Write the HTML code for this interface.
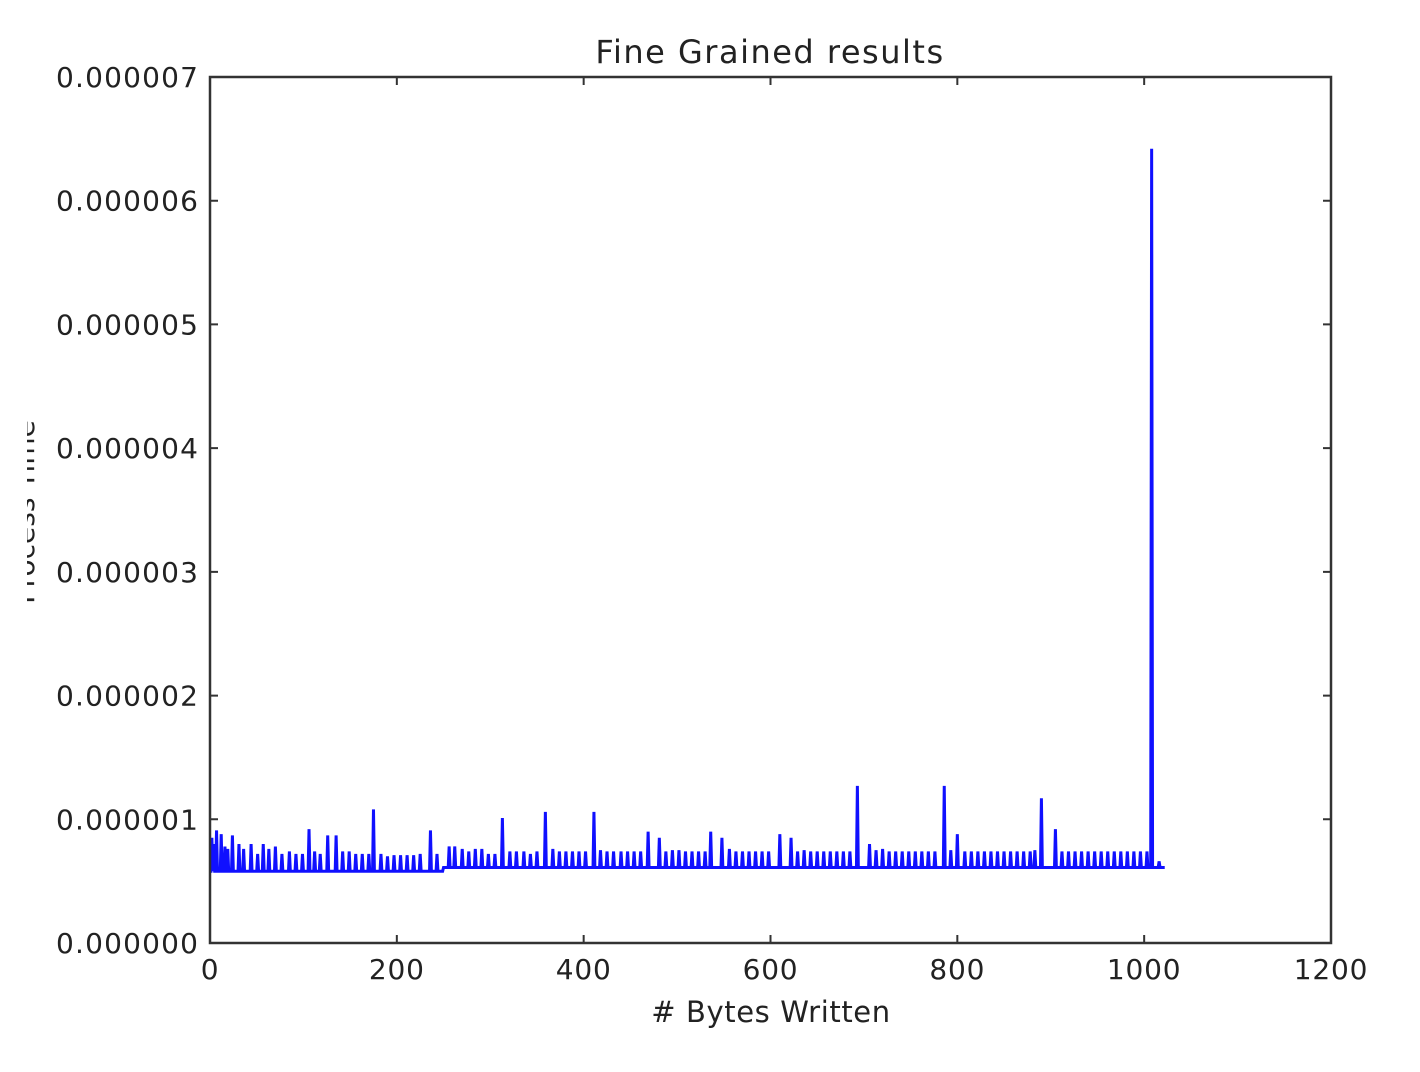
<!DOCTYPE html>
<html><head><meta charset="utf-8"><style>
html,body{margin:0;padding:0;background:#fff;width:1420px;height:1072px;overflow:hidden}
svg{display:block}
text{font-family:"DejaVu Sans","Liberation Sans",sans-serif;fill:#222}
</style></head><body>
<svg id="chart" width="1420" height="1072">
<text x="770" y="63" font-size="32" letter-spacing="1.5" text-anchor="middle">Fine Grained results</text>
<g clip-path="url(#yc)">
<text transform="translate(34,512) rotate(-90)" font-size="28" text-anchor="middle">Process Time</text>
</g>
<defs><clipPath id="yc"><rect x="27" y="0" width="20" height="1072"/></clipPath><clipPath id="pc"><rect x="210" y="77" width="1121" height="866"/></clipPath></defs>
<text x="771" y="1022" font-size="29" letter-spacing="0.6" text-anchor="middle"># Bytes Written</text>
<g id="xt"></g>
<g id="yt"></g>
<path id="series" fill="none" stroke="#1010ff" stroke-width="3" stroke-linejoin="miter" clip-path="url(#pc)"/>
<rect x="210" y="77" width="1121" height="866" fill="none" stroke="#333" stroke-width="2.5"/>
</svg>
<script>
const xTicks=[0,200,400,600,800,1000,1200];
const yTicks=[0,1,2,3,4,5,6,7];
const yTickLabels=["0.000000","0.000001","0.000002","0.000003","0.000004","0.000005","0.000006","0.000007"];
const nPoints=1023;
const baseEarly=0.58, baseLate=0.61, baseSwitch=250;
const bigX=[7,24,106,126,135,175,236,313,359,411,469,481,536,548,610,622,693,706,786,800,890,905,1008];
const bigY=[0.91,0.87,0.92,0.87,0.87,1.08,0.91,1.01,1.06,1.06,0.90,0.85,0.90,0.85,0.88,0.85,1.27,0.80,1.27,0.88,1.17,0.92,6.42];
const smallX=[2,4,12,16,19,31,36,44,51,57,63,70,77,85,92,99,112,118,142,149,156,163,170,183,190,197,204,211,218,225,243,256,262,270,277,284,291,298,305,321,328,336,343,350,367,374,381,388,395,402,418,425,432,440,447,454,461,488,495,502,509,516,523,530,556,563,570,577,584,591,598,629,636,643,650,657,664,671,678,685,713,720,727,734,741,748,755,762,769,776,793,808,815,822,829,836,843,850,857,864,871,878,883,912,919,926,933,940,947,954,961,968,975,982,989,996,1003,1016];
const smallY=[0.85,0.80,0.88,0.78,0.76,0.80,0.76,0.80,0.72,0.80,0.76,0.78,0.72,0.74,0.72,0.72,0.74,0.72,0.74,0.74,0.72,0.72,0.72,0.72,0.70,0.71,0.71,0.71,0.71,0.72,0.72,0.78,0.78,0.76,0.74,0.76,0.76,0.72,0.72,0.74,0.74,0.74,0.72,0.74,0.76,0.74,0.74,0.74,0.74,0.74,0.75,0.74,0.74,0.74,0.74,0.74,0.74,0.74,0.75,0.75,0.74,0.74,0.74,0.74,0.76,0.74,0.74,0.74,0.74,0.74,0.74,0.74,0.75,0.74,0.74,0.74,0.74,0.74,0.74,0.74,0.75,0.76,0.74,0.74,0.74,0.74,0.74,0.74,0.74,0.74,0.75,0.74,0.74,0.74,0.74,0.74,0.74,0.74,0.74,0.74,0.74,0.74,0.75,0.74,0.74,0.74,0.74,0.74,0.74,0.74,0.74,0.74,0.74,0.74,0.74,0.74,0.74,0.66];
const X=v=>210+v*(1121/1200);
const Y=v=>943-v*(866/7);
const ns="http://www.w3.org/2000/svg";
const xt=document.getElementById('xt'), yt=document.getElementById('yt');
xTicks.forEach(t=>{
 const l=document.createElementNS(ns,'path');
 l.setAttribute('d',`M${X(t)},943v-8M${X(t)},77v8`);l.setAttribute('stroke','#333');l.setAttribute('stroke-width','2');
 
 
 xt.appendChild(l);
 const s=document.createElementNS(ns,'text');
 s.setAttribute('x',X(t));s.setAttribute('y',979);s.setAttribute('font-size','28');s.setAttribute('letter-spacing','0.8');s.setAttribute('text-anchor','middle');s.textContent=t;
 
 
 xt.appendChild(s);
});
yTicks.forEach((t,i)=>{
 const l=document.createElementNS(ns,'path');
 l.setAttribute('d',`M210,${Y(t)}h8M1331,${Y(t)}h-8`);l.setAttribute('stroke','#333');l.setAttribute('stroke-width','2');
 
 
 yt.appendChild(l);
 const s=document.createElementNS(ns,'text');
 s.setAttribute('x',198);s.setAttribute('y',Y(t)+10);s.setAttribute('font-size','28');s.setAttribute('text-anchor','end');s.setAttribute('textLength','142');s.setAttribute('lengthAdjust','spacing');s.textContent=yTickLabels[i];
 
 
 yt.appendChild(s);
});
const vals=[];
for(let i=0;i<nPoints;i++)vals.push(i<baseSwitch?baseEarly:baseLate);
smallX.forEach((x,i)=>{if(x<nPoints)vals[x]=smallY[i];});
bigX.forEach((x,i)=>{if(x<nPoints)vals[x]=bigY[i];});
let d='';
vals.forEach((v,i)=>{d+=(i?'L':'M')+X(i).toFixed(2)+','+Y(v).toFixed(2);});
document.getElementById('series').setAttribute('d',d);
</script>
</body></html>
